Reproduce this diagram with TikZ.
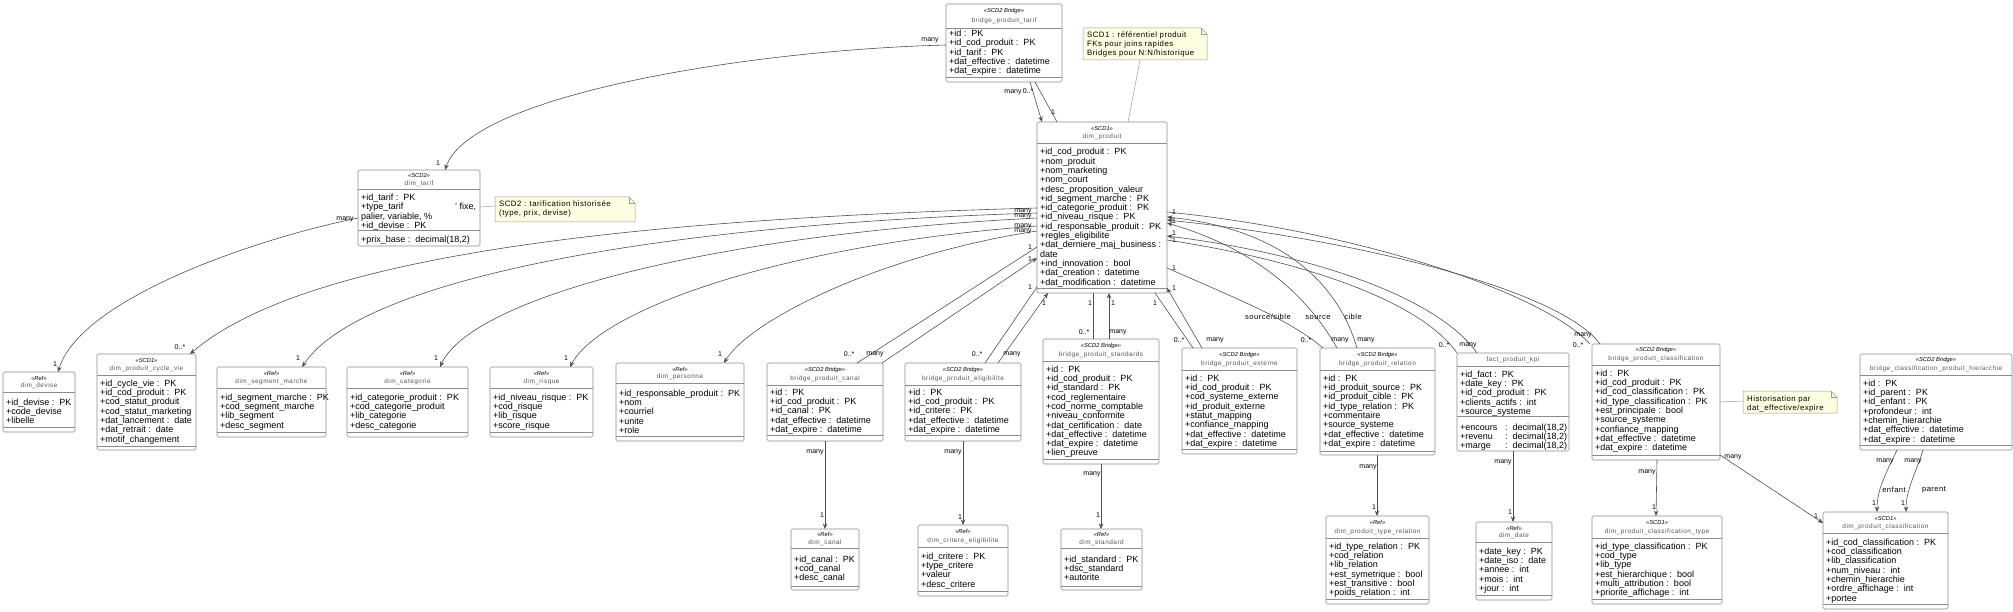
\documentclass[tikz,border=0pt]{standalone}
\usepackage{fontspec}
\setmainfont{Liberation Sans}
\newfontfamily\ttlfont[LetterSpace=8]{Liberation Sans}
\newfontfamily\notefont[LetterSpace=6]{Liberation Sans}
\usetikzlibrary{arrows.meta}
\definecolor{boxc}{HTML}{8C8C8C}
\definecolor{linec}{HTML}{505050}
\definecolor{ttlc}{HTML}{555555}
\definecolor{notefill}{HTML}{FDFDE2}
\definecolor{notec}{HTML}{9A9A9A}
\newcommand\ty[1]{\ :\ \ #1}
\newcommand\cls[9]{%
 \node[box, minimum width=#4pt, minimum height=#5pt, anchor=north west] (#1) at (#2,#3) {};
 \draw[sepl] (#2,#8) -- ++(#4,0);
 \draw[sepl] (#2,#9) -- ++(#4,0);
 \ifx&#6&\node[ttl] (#1-t) at ({#2+#4/2},{(#3+#8)/2}) {#7};
 \else
 \node[stereo] (#1-s) at ({#2+#4/2},{#3+0.3*(#8-#3)}) {«#6»};
 \node[ttl] (#1-t) at ({#2+#4/2},{#8-0.29*(#8-#3)}) {#7};\fi}
\newcommand\flds[4]{\foreach \t [count=\i] in {#4} {\node[fld] (#1-f\i) at (#2,{#3+3.2+(\i-1)*9.3}) {\t};}}
\newcommand\mths[4]{\foreach \t [count=\i] in {#4} {\node[fld] (#1-m\i) at (#2,{#3+3.2+(\i-1)*9.3}) {\t};}}
\newcommand\notebox[5]{%
 \node[anchor=north west, minimum width=#4pt, minimum height=#5pt, inner sep=0, outer sep=0] (#1) at (#2,#3) {};
 \draw[draw=notec, fill=notefill, line width=0.5pt] (#2,#3) -- ({#2+#4-6},#3) -- ({#2+#4},{#3+6}) -- ({#2+#4},{#3+#5}) -- (#2,{#3+#5}) -- cycle;
 \draw[draw=notec, line width=0.5pt] ({#2+#4-6},#3) -- ({#2+#4-6},{#3+6}) -- ({#2+#4},{#3+6});}
\newcounter{lab}
\newcommand\ml[3]{\stepcounter{lab}\node[mult] (lab\arabic{lab}) at (#1,#2) {#3};}
\newcommand\rl[3]{\stepcounter{lab}\node[rlab] (lab\arabic{lab}) at (#1,#2) {#3};}
\tikzset{
 box/.style={draw=boxc, fill=white, rounded corners=1.5pt, line width=0.6pt, inner sep=0, outer sep=0},
 sepl/.style={draw=boxc, line width=0.5pt},
 stereo/.style={font=\fontsize{5.8}{6.5}\selectfont\itshape, inner sep=0},
 ttl/.style={font=\ttlfont\fontsize{6.4}{8}\selectfont, text=ttlc, inner sep=0},
 fld/.style={font=\fontsize{9}{9.3}\selectfont, inner sep=0, anchor=base west},
 conn/.style={draw=linec, line width=0.6pt},
 arr/.style={conn, -{Stealth[length=5.5pt,width=4.5pt]}},
 mult/.style={font=\fontsize{7}{8}\selectfont, inner sep=0},
 rlab/.style={font=\notefont\fontsize{7.6}{8}\selectfont, inner sep=0},
 ntext/.style={font=\notefont\fontsize{7.8}{8.7}\selectfont, inner sep=0, anchor=base west},
}
\begin{document}
\begin{tikzpicture}[x=1pt,y=-1pt]
\fill[white] (0,0) rectangle (2013,612);
\useasboundingbox (0,0) rectangle (2013,612);

% ---------- classes ----------
\cls{bpt}{946}{4}{116}{78}{SCD2 Bridge}{bridge\_produit\_tarif}{28}{77}
\flds{bpt}{949}{33.3}{+id\ty{PK},+id\_cod\_produit\ty{PK},+id\_tarif\ty{PK},+dat\_effective\ty{datetime},+dat\_expire\ty{datetime}}

\cls{dp}{1037}{122}{130}{171}{SCD1}{dim\_produit}{143}{288}
\flds{dp}{1040}{151.7}{+id\_cod\_produit\ty{PK},+nom\_produit,+nom\_marketing,+nom\_court,+desc\_proposition\_valeur,+id\_segment\_marche\ty{PK},+id\_categorie\_produit\ty{PK},+id\_niveau\_risque\ty{PK},+id\_responsable\_produit\ty{PK},+regles\_eligibilite,+dat\_derniere\_maj\_business :,date,+ind\_innovation\ty{bool},+dat\_creation\ty{datetime},+dat\_modification\ty{datetime}}

\cls{dt}{358}{170}{122}{76}{SCD2}{dim\_tarif}{189}{230}
\flds{dt}{361}{197.5}{+id\_tarif\ty{PK},{\makebox[115pt][l]{+type\_tarif\hfill' fixe,}},{palier, variable, \%},+id\_devise\ty{PK}}
\mths{dt}{361}{239}{{+prix\_base\ty{decimal(18,2)}}}

\cls{ddev}{3}{372}{72}{60}{Ref}{dim\_devise}{392}{427}
\flds{ddev}{6}{402}{+id\_devise\ty{PK},+code\_devise,+libelle}

\cls{dcv}{97}{354}{99}{96}{SCD1}{dim\_produit\_cycle\_vie}{375}{446}
\flds{dcv}{100}{383}{+id\_cycle\_vie\ty{PK},+id\_cod\_produit\ty{PK},+cod\_statut\_produit,+cod\_statut\_marketing,+dat\_lancement\ty{date},+dat\_retrait\ty{date},+motif\_changement}

\cls{dsm}{217}{367}{109}{70}{Ref}{dim\_segment\_marche}{388}{432}
\flds{dsm}{220}{397}{+id\_segment\_marche\ty{PK},+cod\_segment\_marche,+lib\_segment,+desc\_segment}

\cls{dcat}{347}{367}{121}{70}{Ref}{dim\_categorie}{388}{432}
\flds{dcat}{350}{397}{+id\_categorie\_produit\ty{PK},+cod\_categorie\_produit,+lib\_categorie,+desc\_categorie}

\cls{dri}{490}{367}{103}{70}{Ref}{dim\_risque}{388}{432}
\flds{dri}{493}{397}{+id\_niveau\_risque\ty{PK},+cod\_risque,+lib\_risque,+score\_risque}

\cls{dpe}{616}{363}{128}{78}{Ref}{dim\_personne}{383}{436}
\flds{dpe}{619}{393}{+id\_responsable\_produit\ty{PK},+nom,+courriel,+unite,+role}

\cls{bpc}{767}{363}{116}{78}{SCD2 Bridge}{bridge\_produit\_canal}{385}{435}
\flds{bpc}{770}{392}{+id\ty{PK},+id\_cod\_produit\ty{PK},+id\_canal\ty{PK},+dat\_effective\ty{datetime},+dat\_expire\ty{datetime}}

\cls{bpe}{905}{363}{116}{78}{SCD2 Bridge}{bridge\_produit\_eligibilite}{385}{435}
\flds{bpe}{908}{392}{+id\ty{PK},+id\_cod\_produit\ty{PK},+id\_critere\ty{PK},+dat\_effective\ty{datetime},+dat\_expire\ty{datetime}}

\cls{bps}{1043}{339}{116}{125}{SCD2 Bridge}{bridge\_produit\_standards}{361}{459}
\flds{bps}{1046}{369}{+id\ty{PK},+id\_cod\_produit\ty{PK},+id\_standard\ty{PK},+cod\_reglementaire,+cod\_norme\_comptable,+niveau\_conformite,+dat\_certification\ty{date},+dat\_effective\ty{datetime},+dat\_expire\ty{datetime},+lien\_preuve}

\cls{bpx}{1182}{348}{115}{106}{SCD2 Bridge}{bridge\_produit\_externe}{370}{449}
\flds{bpx}{1185}{378}{+id\ty{PK},+id\_cod\_produit\ty{PK},+cod\_systeme\_externe,+id\_produit\_externe,+statut\_mapping,+confiance\_mapping,+dat\_effective\ty{datetime},+dat\_expire\ty{datetime}}

\cls{bpr}{1320}{348}{115}{107}{SCD2 Bridge}{bridge\_produit\_relation}{370}{451}
\flds{bpr}{1323}{378}{+id\ty{PK},+id\_produit\_source\ty{PK},+id\_produit\_cible\ty{PK},+id\_type\_relation\ty{PK},+commentaire,+source\_systeme,+dat\_effective\ty{datetime},+dat\_expire\ty{datetime}}

\cls{fk}{1457}{353}{112}{98}{}{fact\_produit\_kpi}{366}{416}
\flds{fk}{1460}{374}{+id\_fact\ty{PK},+date\_key\ty{PK},+id\_cod\_produit\ty{PK},+clients\_actifs\ty{int},+source\_systeme}
\mths{fk}{1460}{427}{{\makebox[45pt][l]{+encours}:\ \ decimal(18,2)},{\makebox[45pt][l]{+revenu}:\ \ decimal(18,2)},{\makebox[45pt][l]{+marge}:\ \ decimal(18,2)}}

\cls{bpcl}{1592}{344}{128}{116}{SCD2 Bridge}{bridge\_produit\_classification}{365}{455}
\flds{bpcl}{1595}{373}{+id\ty{PK},+id\_cod\_produit\ty{PK},+id\_cod\_classification\ty{PK},+id\_type\_classification\ty{PK},+est\_principale\ty{bool},+source\_systeme,+confiance\_mapping,+dat\_effective\ty{datetime},+dat\_expire\ty{datetime}}

\cls{bcph}{1860}{354}{152}{96}{SCD2 Bridge}{bridge\_classification\_produit\_hierarchie}{375}{445}
\flds{bcph}{1863}{383}{+id\ty{PK},+id\_parent\ty{PK},+id\_enfant\ty{PK},+profondeur\ty{int},+chemin\_hierarchie,+dat\_effective\ty{datetime},+dat\_expire\ty{datetime}}

\cls{dc}{791}{529}{68}{61}{Ref}{dim\_canal}{548}{586}
\flds{dc}{794}{559}{+id\_canal\ty{PK},+cod\_canal,+desc\_canal}

\cls{dce}{918}{525}{90}{71}{Ref}{dim\_critere\_eligibilite}{547}{591}
\flds{dce}{921}{556}{+id\_critere\ty{PK},+type\_critere,+valeur,+desc\_critere}

\cls{dst}{1061}{529}{81}{61}{Ref}{dim\_standard}{548}{586}
\flds{dst}{1064}{559}{+id\_standard\ty{PK},+dsc\_standard,+autorite}

\cls{dtr}{1326}{516}{103}{88}{Ref}{dim\_produit\_type\_relation}{538}{599}
\flds{dtr}{1329}{546}{+id\_type\_relation\ty{PK},+cod\_relation,+lib\_relation,+est\_symetrique\ty{bool},+est\_transitive\ty{bool},+poids\_relation\ty{int}}

\cls{dd}{1476}{522}{76}{78}{Ref}{dim\_date}{542}{595}
\flds{dd}{1479}{551}{+date\_key\ty{PK},+date\_iso\ty{date},+annee\ty{int},+mois\ty{int},+jour\ty{int}}

\cls{dpct}{1592}{516}{130}{88}{SCD1}{dim\_produit\_classification\_type}{538}{599}
\flds{dpct}{1595}{546}{+id\_type\_classification\ty{PK},+cod\_type,+lib\_type,+est\_hierarchique\ty{bool},+multi\_attribution\ty{bool},+priorite\_affichage\ty{int}}

\cls{dpcl}{1823}{512}{125}{97}{SCD1}{dim\_produit\_classification}{533}{604}
\flds{dpcl}{1826}{542}{+id\_cod\_classification\ty{PK},+cod\_classification,+lib\_classification,+num\_niveau\ty{int},+chemin\_hierarchie,+ordre\_affichage\ty{int},+portee}

% ---------- notes ----------
\notebox{n1}{1083}{28}{124}{32}
\node[ntext] (n1-a) at (1087,38) {SCD1 : référentiel produit};
\node[ntext] (n1-b) at (1087,46.6) {FKs pour joins rapides};
\node[ntext] (n1-c) at (1087,55.3) {Bridges pour N:N/historique};
\notebox{n2}{495}{197}{140}{25}
\node[ntext] (n2-a) at (499,206.3) {SCD2 : tarification historisée};
\node[ntext] (n2-b) at (499,215.5) {(type, prix, devise)};
\notebox{n3}{1743}{391}{94}{22}
\node[ntext] (n3-a) at (1747,401.3) {Historisation par};
\node[ntext] (n3-b) at (1747,410.2) {dat\_effective/expire};

% ---------- connectors ----------
\draw[arr] ([shift={(0,41)}]bpt.north west) .. controls (750,50) and (470,95) .. ([shift={(87,0)}]dt.north west);
\draw[arr] ([shift={(84,78)}]bpt.north west) -- ([shift={(5,0)}]dp.north west);
\draw[conn] ([shift={(20,0)}]dp.north west) -- ([shift={(89,78)}]bpt.north west);
\draw[draw=notec, line width=0.5pt] ([shift={(57,32)}]n1.north west) -- ([shift={(91,0)}]dp.north west);
\draw[draw=notec, line width=0.5pt] ([shift={(0,37)}]dt.north east) -- ([shift={(0,9)}]n2.north west);
\draw[arr] ([shift={(0,48)}]dt.north west) .. controls (250,240) and (80,300) .. ([shift={(55,0)}]ddev.north west);

\draw[arr] ([shift={(0,86)}]dp.north west) .. controls (600,220) and (300,260) .. ([shift={(93,0)}]dcv.north west);
\draw[arr] ([shift={(0,91)}]dp.north west) .. controls (650,225) and (360,280) .. ([shift={(85,0)}]dsm.north west);
\draw[arr] ([shift={(0,96)}]dp.north west) .. controls (700,235) and (470,300) .. ([shift={(93,0)}]dcat.north west);
\draw[arr] ([shift={(0,104)}]dp.north west) .. controls (780,245) and (600,310) .. ([shift={(80,0)}]dri.north west);
\draw[arr] ([shift={(0,109)}]dp.north west) .. controls (880,255) and (750,320) .. ([shift={(108,0)}]dpe.north west);

\draw[conn] ([shift={(0,125)}]dp.north west) -- ([shift={(90,0)}]bpc.north west);
\draw[arr] ([shift={(115,0)}]bpc.north west) -- ([shift={(0,136)}]dp.north west);
\draw[conn] ([shift={(0,165)}]dp.north west) -- ([shift={(80,0)}]bpe.north west);
\draw[arr] ([shift={(93,0)}]bpe.north west) -- ([shift={(11,0)}]dp.south west);
\draw[conn] ([shift={(56,0)}]dp.south west) -- ([shift={(50,0)}]bps.north west);
\draw[arr] ([shift={(66,0)}]bps.north west) -- ([shift={(72,0)}]dp.south west);
\draw[conn] ([shift={(118,0)}]dp.south west) -- ([shift={(11,0)}]bpx.north west);
\draw[arr] ([shift={(20,0)}]bpx.north west) -- ([shift={(0,166)}]dp.north east);

\draw[conn] ([shift={(0,146)}]dp.north east) .. controls (1240,300) and (1290,320) .. ([shift={(3,0)}]bpr.north west);
\draw[arr] ([shift={(17,0)}]bpr.north west) .. controls (1310,300) and (1260,250) .. ([shift={(0,101)}]dp.north east);
\draw[arr] ([shift={(37,0)}]bpr.north west) .. controls (1340,290) and (1290,230) .. ([shift={(0,95)}]dp.north east);
\draw[conn] ([shift={(0,118)}]dp.north east) .. controls (1300,260) and (1420,300) .. (fk.north west);
\draw[arr] ([shift={(20,0)}]fk.north west) .. controls (1440,300) and (1320,255) .. ([shift={(0,114)}]dp.north east);
\draw[conn] ([shift={(0,90)}]dp.north east) .. controls (1350,230) and (1540,290) .. ([shift={(-2,0)}]bpcl.north west);
\draw[arr] ([shift={(8,0)}]bpcl.north west) .. controls (1560,290) and (1360,240) .. ([shift={(0,98)}]dp.north east);

\draw[arr] ([shift={(58,0)}]bpc.south west) -- ([shift={(34,0)}]dc.north west);
\draw[arr] ([shift={(58,0)}]bpe.south west) -- ([shift={(45,0)}]dce.north west);
\draw[arr] ([shift={(58,0)}]bps.south west) -- ([shift={(40,0)}]dst.north west);
\draw[arr] ([shift={(57,0)}]bpr.south west) -- ([shift={(51,0)}]dtr.north west);
\draw[arr] ([shift={(56,0)}]fk.south west) -- ([shift={(37,0)}]dd.north west);
\draw[arr] ([shift={(65,0)}]bpcl.south west) -- ([shift={(64,0)}]dpct.north west);
\draw[arr] ([shift={(0,111)}]bpcl.north east) -- ([shift={(0,11)}]dpcl.north west);
\draw[arr] ([shift={(37,0)}]bcph.south west) .. controls (1885,475) and (1877,490) .. ([shift={(54,0)}]dpcl.north west);
\draw[arr] ([shift={(63,0)}]bcph.south west) .. controls (1915,475) and (1906,490) .. ([shift={(83,0)}]dpcl.north west);
\draw[draw=notec, line width=0.5pt] ([shift={(0,58)}]bpcl.north east) -- ([shift={(0,10)}]n3.north west);

% ---------- labels ----------
\ml{930}{40}{many}\ml{438}{163}{1}
\ml{1013}{92}{many}\ml{1028}{91}{0..*}\ml{1053}{112}{1}
\ml{345}{219}{many}\ml{55}{364}{1}
\ml{180}{347}{0..*}
\ml{1023}{211}{many}\ml{298}{358}{1}
\ml{1023}{216}{many}\ml{436}{358}{1}
\ml{1023}{226}{many}\ml{566}{358}{1}
\ml{1023}{231}{many}\ml{720}{354}{1}
\ml{1030}{247}{1}\ml{1030}{259}{1}\ml{849}{354}{0..*}\ml{875}{354}{many}
\ml{1030}{287}{1}\ml{1044}{303}{1}\ml{977}{354}{0..*}\ml{1012}{354}{many}
\ml{1090}{303}{1}\ml{1113}{303}{1}\ml{1084}{332}{0..*}\ml{1118}{332}{many}
\ml{1155}{303}{1}\ml{1174}{288}{1}\ml{1179}{340}{0..*}\ml{1215}{340}{many}
\ml{1174}{268}{1}\ml{1306}{340}{0..*}\ml{1340}{340}{many}\ml{1366}{340}{many}
\rl{1268}{317}{source/cible}\rl{1318}{317}{source}\rl{1353}{317}{cible}
\ml{1444}{345}{0..*}\ml{1468}{345}{many}\ml{1174}{240}{1}\ml{1174}{233}{1}
\ml{1578}{345}{0..*}\ml{1583}{335}{many}\ml{1174}{212}{1}\ml{1174}{221}{1}
\ml{815}{452}{many}\ml{822}{515}{1}
\ml{953}{452}{many}\ml{960}{517}{1}
\ml{1092}{474}{many}\ml{1098}{515}{1}
\ml{1368}{467}{many}\ml{1374}{507}{1}
\ml{1503}{462}{many}\ml{1510}{512}{1}
\ml{1647}{472}{many}\ml{1654}{507}{1}
\ml{1733}{457}{many}\ml{1816}{516}{1}
\ml{1885}{461}{many}\ml{1913}{461}{many}\ml{1874}{503}{1}\ml{1903}{503}{1}
\rl{1894}{490}{enfant}\rl{1934}{490}{parent}
\end{tikzpicture}
\end{document}
